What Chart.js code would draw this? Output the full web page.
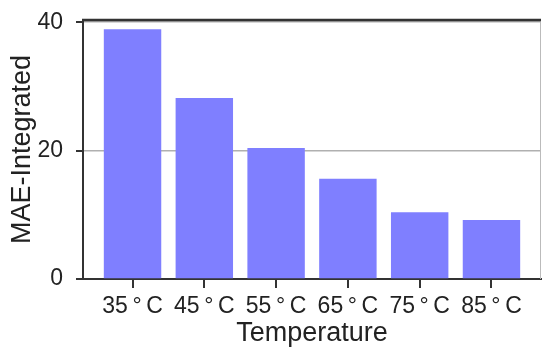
<!DOCTYPE html>
<html>
<head>
<meta charset="utf-8">
<script src="https://cdn.jsdelivr.net/npm/chart.js@4/dist/chart.umd.min.js"></script>
<style>
  body { margin: 0; background: #fff; }
  canvas { display: block; }
</style>
</head>
<body>
<canvas id="chart" width="542" height="347"></canvas>
<script>
// data
const temperatures = ["35\u2009°\u2009C", "45\u2009°\u2009C", "55\u2009°\u2009C", "65\u2009°\u2009C", "75\u2009°\u2009C", "85\u2009°\u2009C"];
const maeIntegrated = [38.9, 28.2, 20.4, 15.6, 10.4, 9.2];
const yTicks = [0, 20, 40];

const fontFamily = "'Liberation Sans', Arial, sans-serif";
const axisColor = "#333";

// top + right spines and the outward tick marks (matplotlib style frame)
const framePlugin = {
  id: "frame",
  afterDraw(chart) {
    const { ctx, chartArea } = chart;
    const xScale = chart.scales.x;
    const yScale = chart.scales.y;
    ctx.save();
    ctx.strokeStyle = "#bbb";
    ctx.lineWidth = 1;
    ctx.beginPath();
    ctx.moveTo(chartArea.right - 0.5, chartArea.top);
    ctx.lineTo(chartArea.right - 0.5, chartArea.bottom);
    ctx.stroke();

    ctx.strokeStyle = axisColor;
    ctx.lineWidth = 2.5;
    ctx.beginPath();
    ctx.moveTo(chartArea.left - 1, chartArea.top);
    ctx.lineTo(chartArea.right, chartArea.top);
    ctx.stroke();

    ctx.lineWidth = 2;
    ctx.beginPath();
    xScale.ticks.forEach((t) => {
      const px = Math.round(xScale.getPixelForValue(t.value));
      ctx.moveTo(px, chartArea.bottom);
      ctx.lineTo(px, chartArea.bottom + 9);
    });
    yScale.ticks.forEach((t) => {
      const py = Math.round(yScale.getPixelForValue(t.value));
      ctx.moveTo(chartArea.left - 7, py);
      ctx.lineTo(chartArea.left, py);
    });
    ctx.stroke();
    ctx.restore();
  },
};

const data = {
  datasets: [
    {
      label: "MAE-Integrated",
      data: maeIntegrated.map((v, i) => ({ x: i, y: v })),
      backgroundColor: "rgb(127, 127, 255)",
      borderWidth: 0,
      barPercentage: 0.8,
      categoryPercentage: 1,
    },
  ],
};

const config = {
  type: "bar",
  data: data,
  plugins: [framePlugin],
  options: {
    responsive: false,
    animation: false,
    layout: { padding: { top: 20, right: 1, left: 0, bottom: 0 } },
    plugins: { legend: { display: false }, tooltip: { enabled: false } },
    scales: {
      x: {
        type: "linear",
        min: -0.69,
        max: temperatures.length - 1 + 0.69,
        offset: false,
        afterBuildTicks: (axis) => {
          axis.ticks = temperatures.map((_, i) => ({ value: i }));
        },
        afterFit: (axis) => {
          axis.height = 68;
          axis.paddingLeft = 0;
          axis.paddingRight = 0;
        },
        ticks: {
          autoSkip: false,
          maxRotation: 0,
          padding: 14,
          color: "#222",
          font: { family: fontFamily, size: 23 },
          callback: (v) => temperatures[v],
        },
        grid: {
          offset: false,
          drawOnChartArea: false,
          drawTicks: false,
        },
        border: { color: axisColor, width: 2 },
        title: {
          display: true,
          text: "Temperature",
          color: "#222",
          font: { family: fontFamily, size: 27, lineHeight: 1.0 },
          padding: { top: 0, bottom: 0 },
        },
      },
      y: {
        min: 0,
        max: 40.35,
        afterBuildTicks: (axis) => {
          axis.ticks = yTicks.map((v) => ({ value: v }));
        },
        afterFit: (axis) => {
          axis.width = 83;
          axis.paddingTop = 0;
          axis.paddingBottom = 0;
        },
        ticks: {
          padding: 20,
          color: "#222",
          font: { family: fontFamily, size: 23 },
        },
        grid: {
          color: "#b0b0b0",
          lineWidth: 1.5,
          drawTicks: false,
        },
        border: { color: axisColor, width: 2 },
        title: {
          display: true,
          text: "MAE-Integrated",
          color: "#222",
          font: { family: fontFamily, size: 27, lineHeight: 1.2 },
          padding: { top: 6, bottom: 0 },
        },
      },
    },
  },
};

const myChart = new Chart(document.getElementById("chart"), config);
</script>
</body>
</html>
